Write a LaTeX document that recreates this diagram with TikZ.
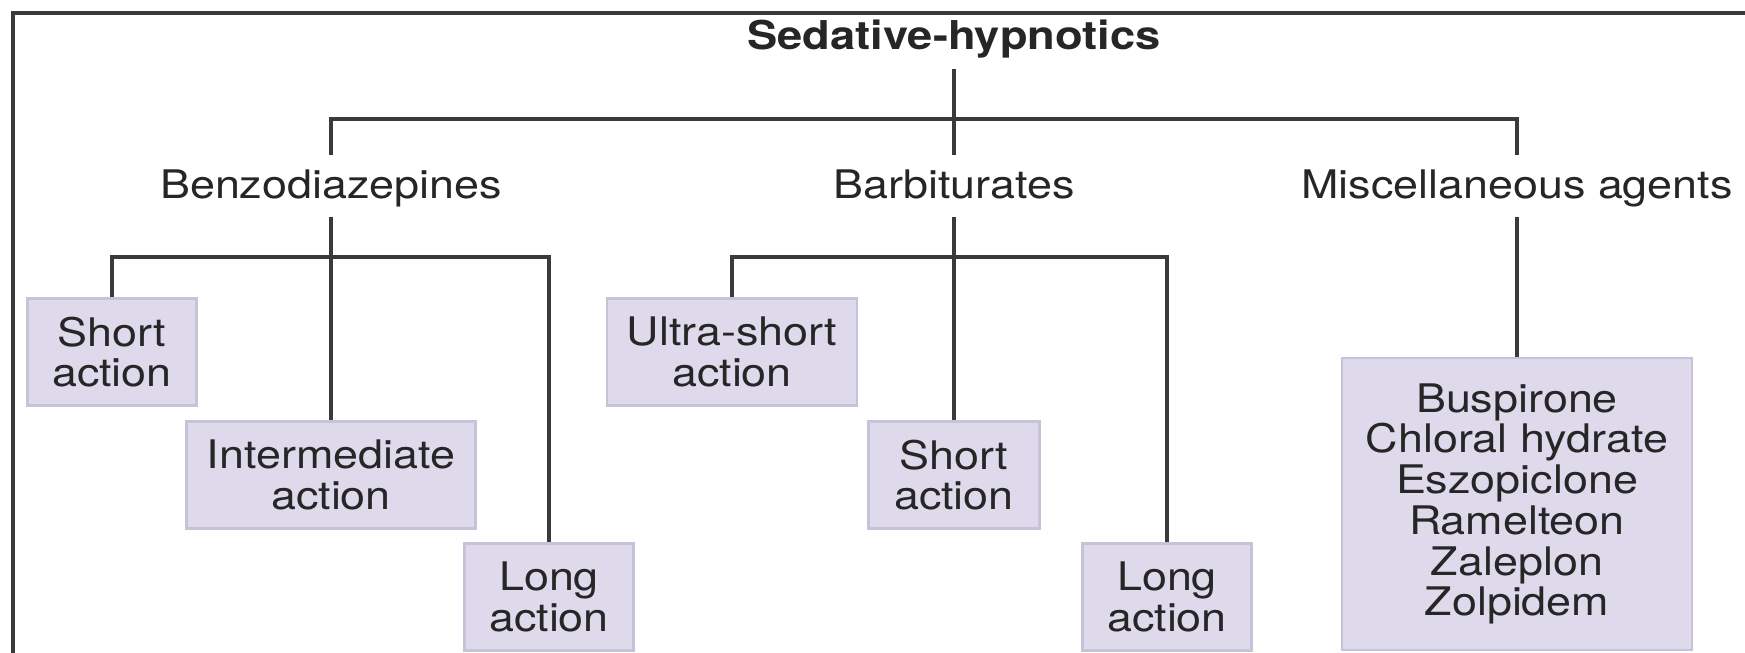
\documentclass[tikz,border=0pt]{standalone}
\usepackage{fontspec}
\usepackage{xcolor}
\usepackage{tikz}
\newfontfamily\heros[FakeStretch=1.14]{TeX Gyre Heros}
\definecolor{ink}{HTML}{262626}
\definecolor{wire}{HTML}{3A3A3A}
\definecolor{lav}{HTML}{DEDAEC}
\definecolor{lavedge}{HTML}{C6C2D8}

\begin{document}
\begin{tikzpicture}[
    font=\heros\fontsize{11.2}{11.6}\selectfont,
    link/.style={wire, line width=1.1pt},
    head/.style={ink, inner sep=4pt, text height=8.2pt, text depth=0.8pt},
    drug/.style={ink, draw=lavedge, fill=lav, line width=0.6pt, align=center,
                 minimum width=1.69cm, minimum height=1.07cm, inner sep=2pt}]
  \useasboundingbox (0,0) rectangle (17.45,-6.53);

  % Cadru
  \draw[wire, line width=1.2pt] (0.13,-6.53) -- (0.13,-0.13) -- (17.45,-0.13);

  % Titlu si clase
  \node[head, inner sep=3pt, text depth=2.2pt,
        font=\heros\bfseries\fontsize{11.3}{11.6}\selectfont, anchor=base]
    (title) at (9.54,-0.50) {Sedative-hypnotics};
  \node[head, anchor=base] (benzo) at (3.31,-1.99) {Benzodiazepines};
  \node[head, anchor=base] (barb)  at (9.54,-1.99) {Barbiturates};
  \node[head, anchor=base] (misc)  at (15.17,-1.99) {Miscellaneous agents};

  % Cutii
  \node[drug] (bs) at (1.12,-3.52) {Short\\action};
  \node[drug, minimum width=2.89cm] (bi) at (3.31,-4.75) {Intermediate\\action};
  \node[drug] (bl) at (5.49,-5.97) {Long\\action};
  \node[drug, minimum width=2.50cm] (us) at (7.32,-3.52) {Ultra-short\\action};
  \node[drug, minimum width=1.71cm] (rs) at (9.54,-4.75) {Short\\action};
  \node[drug] (rl) at (11.67,-5.97) {Long\\action};
  \node[drug, minimum width=3.50cm, minimum height=2.92cm]
    (mi) at (15.17,-5.04) {Buspirone\\Chloral hydrate\\Eszopiclone\\Ramelteon\\Zaleplon\\Zolpidem};

  % Legaturi
  \coordinate (topbar) at (9.54,-1.19);
  \coordinate (bbar) at (3.31,-2.57);
  \coordinate (rbar) at (9.54,-2.57);
  \draw[link] (title) -- (barb);
  \draw[link] (benzo) |- (topbar) -| (misc);
  \draw[link] (bs) |- (bbar) -| (bl);
  \draw[link] (benzo) -- (bi);
  \draw[link] (us) |- (rbar) -| (rl);
  \draw[link] (barb) -- (rs);
  \draw[link] (misc) -- (mi);
\end{tikzpicture}
\end{document}
